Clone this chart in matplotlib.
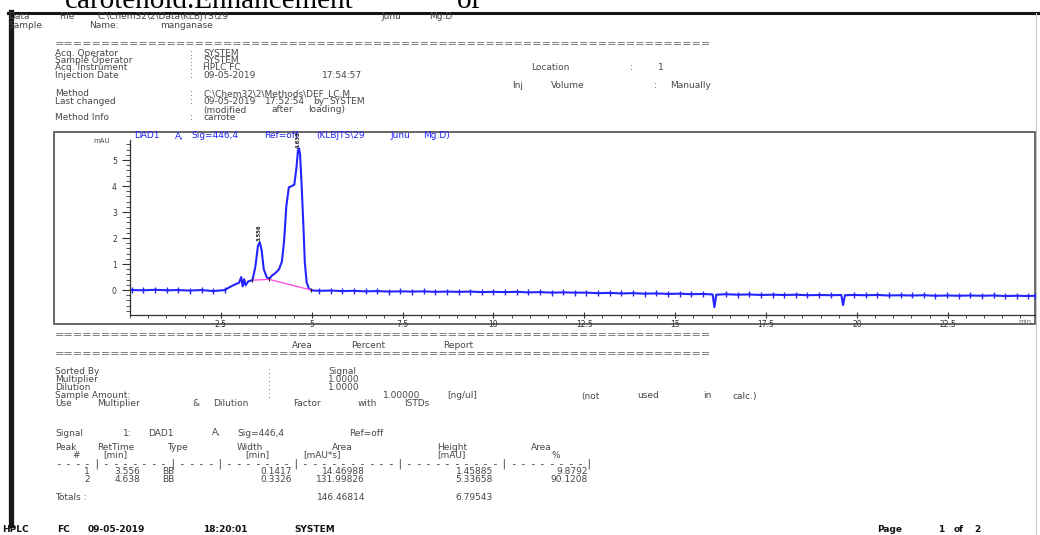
import re

import matplotlib
matplotlib.use('Agg')
import matplotlib.pyplot as plt
import numpy as np
from matplotlib.font_manager import FontProperties
from matplotlib.textpath import TextToPath


# DAD1 A signal, (min, mAU)
trace_pre = [(0.05, 0.00), (0.37, -0.01), (0.69, 0.01), (1.01, -0.01), (1.33, 0.00),
             (1.65, -0.02), (1.97, 0.00), (2.29, -0.04), (2.61, 0.00)]
trace_peaks = [(2.75, 0.12), (2.90, 0.22), (3.00, 0.28), (3.06, 0.50), (3.10, 0.14),
               (3.14, 0.42), (3.18, 0.18), (3.25, 0.33), (3.37, 0.38), (3.45, 0.90),
               (3.52, 1.70), (3.57, 1.84), (3.62, 1.55), (3.68, 0.80), (3.76, 0.50),
               (3.83, 0.42), (3.90, 0.55), (4.00, 0.65), (4.10, 0.80), (4.18, 1.10),
               (4.24, 1.90), (4.30, 3.20), (4.37, 3.95), (4.45, 4.00), (4.52, 4.05),
               (4.58, 4.70), (4.62, 5.35), (4.65, 5.45), (4.68, 5.20), (4.72, 4.10),
               (4.77, 2.50), (4.81, 1.05), (4.86, 0.30), (4.92, 0.06), (4.98, 0.00),
               (5.05, -0.02)]
trace_post = [(5.20, -0.03), (5.52, -0.02), (5.84, -0.04), (6.16, -0.03), (6.48, -0.05),
              (6.80, -0.04), (7.12, -0.06), (7.44, -0.05), (7.76, -0.06), (8.08, -0.05),
              (8.40, -0.07), (8.72, -0.06), (9.04, -0.07), (9.36, -0.06), (9.68, -0.08),
              (10.00, -0.07), (10.32, -0.08), (10.64, -0.07), (10.96, -0.09), (11.28, -0.08),
              (11.60, -0.10), (11.92, -0.09), (12.24, -0.10), (12.56, -0.10), (12.88, -0.12),
              (13.20, -0.11), (13.52, -0.13), (13.84, -0.12), (14.16, -0.14), (14.48, -0.13),
              (14.80, -0.15), (15.12, -0.14), (15.44, -0.16), (15.76, -0.15), (16.03, -0.17),
              (16.08, -0.66), (16.13, -0.18), (16.40, -0.16), (16.72, -0.18), (17.04, -0.17),
              (17.36, -0.19), (17.68, -0.18), (18.00, -0.19), (18.32, -0.18), (18.64, -0.20),
              (18.96, -0.19), (19.28, -0.20), (19.57, -0.19), (19.62, -0.58), (19.67, -0.20),
              (19.92, -0.19), (20.24, -0.20), (20.56, -0.19), (20.88, -0.21), (21.20, -0.20),
              (21.52, -0.21), (21.84, -0.20), (22.16, -0.22), (22.48, -0.21), (22.80, -0.22),
              (23.12, -0.21), (23.44, -0.22), (23.76, -0.21), (24.08, -0.23), (24.40, -0.22),
              (24.72, -0.23), (24.90, -0.22)]
dip_t = [16.08, 19.62]

# integration baseline under the two peaks
base_t = [3.37, 3.83, 4.98]
base_v = [0.38, 0.41, 0.00]

# area percent report
peak_no = [1, 2]
peak_rt = [3.556, 4.638]
peak_type = ['BB', 'BB']
peak_width = [0.1417, 0.3326]
peak_area = [14.46988, 131.99826]
peak_height = [1.45885, 5.33658]
peak_pct = [9.8792, 90.1208]

x_ticks = [2.5, 5, 7.5, 10, 12.5, 15, 17.5, 20, 22.5]
x_labels = ['2.5', '5', '7.5', '10', '12.5', '15', '17.5', '20', '22.5']
y_ticks = [0, 1, 2, 3, 4, 5]

ink = '#474747'
blue = '#2424ff'
FS = 6.5

fig = plt.figure(figsize=(10.4, 5.35), dpi=100)
page = fig.add_axes([0, 0, 1, 1])
page.set_xlim(0, 1040)
page.set_ylim(535, 0)
page.axis('off')

t2p = TextToPath()


def natw(s, size, family='DejaVu Sans'):
    prop = FontProperties(family=family, size=size)
    w = t2p.get_text_width_height_descent(s + '|', prop, ismath=False)[0]
    w0 = t2p.get_text_width_height_descent('|', prop, ismath=False)[0]
    return (w - w0) * 100 / 72.


def put(s, x, y, x_end=None, size=FS, ha='left', **kw):
    kw.setdefault('color', ink)
    if x_end is None:
        page.text(x, y, s, fontsize=size, ha=ha, va='center', **kw)
        return
    # the scan is stretched sideways: spread the words over the measured span
    words = [(m.start(), m.group()) for m in re.finditer(r'\S+', s)]
    last_start, last = words[-1]
    k = max((x_end - x - natw(last, size)) / max(natw(s[:last_start], size), 1), 1)
    for st, w in words:
        page.text(x + natw(s[:st], size) * k, y, w, fontsize=size, va='center', **kw)


def rule(x0, x1, y):
    s = '=' * 70
    page.text(x0, y, s, fontsize=FS * (x1 - x0) / natw(s, FS), va='center', color='#6a6a6a')


def sep(s, x0, x1, y):
    pitch = (x1 - x0) / len(s)
    for i, ch in enumerate(s):
        page.text(x0 + i * pitch, y, ch, fontsize=FS + 1.5, family='DejaVu Sans Mono',
                  va='center', color=ink)


# partial line of the page above, cut by the scan
page.text(65, 8.5, 'carotenoid.Enhancement', fontsize=21, family='Liberation Serif',
          va='baseline', color='black')
page.text(457, 8.5, 'of', fontsize=21, family='Liberation Serif', va='baseline', color='black')

# scan borders
page.plot([8, 1040], [12.5, 12.5], color='#151515', lw=2.2)
page.plot([10.5, 10.5], [12, 525], color='#1a1a1a', lw=3.8)
page.plot([1036, 1036], [13, 535], color='#c8c8c8', lw=0.8)

put('Data File C:\\Chem32\\2\\Data\\KLBJTS\\29 Junu Mg.D', 8, 16.5, 452)
put('Sample Name: manganase', 8, 25, 213)
rule(55, 712, 44)

hdr = [('Acq. Operator', 'SYSTEM', 53), ('Sample Operator', 'SYSTEM', 60.5),
       ('Acq. Instrument', 'HPLC FC', 68), ('Injection Date', '09-05-2019 17:54:57', 76),
       ('Method', 'C:\\Chem32\\2\\Methods\\DEF_LC.M', 94),
       ('Last changed', '09-05-2019 17:52:54 by SYSTEM', 102),
       ('', '(modified after loading)', 110), ('Method Info', 'carrote', 118)]
val_end = {'09-05-2019 17:54:57': 362, 'C:\\Chem32\\2\\Methods\\DEF_LC.M': 365,
           '09-05-2019 17:52:54 by SYSTEM': 365, '(modified after loading)': 345}
for lab, val, y in hdr:
    if lab:
        put(lab, 55, y)
        put(':', 190, y)
    put(val, 203, y, val_end.get(val))
put('Location :   1', 531, 68, 664)
put('Inj Volume : Manually', 512, 85, 711)

rule(55, 712, 335)
put('Area Percent Report', 292, 346, 473)
rule(55, 712, 354)

opts = [('Sorted By', 'Signal', 372), ('Multiplier', '1.0000', 380), ('Dilution', '1.0000', 388)]
for lab, val, y in opts:
    put(lab, 55, y)
    put(':', 268, y)
    put(val, 328, y)
put('Sample Amount:', 55, 396)
put(':', 268, 396)
put('1.00000', 383, 396)
put('[ng/ul]', 447, 396)
put('(not used in calc.)', 581, 396, 757)
put('Use Multiplier & Dilution Factor with ISTDs', 55, 404, 430)
put('Signal 1: DAD1 A, Sig=446,4 Ref=off', 55, 433, 383)

for txt, x in [('Peak', 55), ('RetTime', 97), ('Type', 167), ('Width', 237),
               ('Area', 332), ('Height', 437), ('Area', 531)]:
    put(txt, x, 447)
for txt, x in [('#', 72), ('[min]', 103), ('[min]', 245), ('[mAU*s]', 303),
               ('[mAU]', 437), ('%', 551)]:
    put(txt, x, 455)
sep('----|-------|----|-------|----------|----------|--------|', 55, 595, 464)
for i, y in enumerate([472, 480]):
    put(str(peak_no[i]), 90, y, ha='right')
    put(f'{peak_rt[i]:.3f}', 140, y, ha='right')
    put(peak_type[i], 162, y)
    put(f'{peak_width[i]:.4f}', 292, y, ha='right')
    put(f'{peak_area[i]:.5f}', 365, y, ha='right')
    put(f'{peak_height[i]:.5f}', 493, y, ha='right')
    put(f'{peak_pct[i]:.4f}', 588, y, ha='right')
put('Totals :', 55, 498)
put(f'{sum(peak_area):.5f}', 365, 498, ha='right')
put(f'{sum(peak_height):.5f}', 493, 498, ha='right')

put('HPLC FC 09-05-2019 18:20:01 SYSTEM', 2, 530, 330, color='#111', fontweight='bold')
put('Page    1 of 2', 877, 530, 980, color='#111', fontweight='bold')

# chromatogram frame
page.add_patch(plt.Rectangle((54, 132), 981, 192, fill=False, edgecolor='#5a5a5a', lw=1.3))
put('DAD1 A, Sig=446,4 Ref=off (KLBJTS\\29 Junu Mg.D)', 134, 136, 450, size=6.5, color=blue)
put('mAU', 93, 141, size=5, color='#444')
put('min', 1018, 322, size=5, color='#666')

ax = fig.add_axes([130 / 1040, (535 - 315) / 535, (1035 - 130) / 1040, (315 - 140) / 535])
ax.patch.set_alpha(0)
tr = np.array(trace_pre + trace_peaks + trace_post)
t, v = tr[:, 0], tr[:, 1]
ax.plot(t, v, color=blue, lw=1.5, solid_joinstyle='round')
hm = ((t < 2.65) | (t > 5.15)) & (np.abs(t[:, None] - np.array(dip_t)).min(axis=1) > 0.06)
ax.plot(t[hm], v[hm], ls='none', marker='|', ms=4, mew=1.0, color=blue)
ax.plot(base_t, base_v, color='#ff45e0', lw=0.9)
ax.plot(base_t, base_v, ls='none', marker='|', ms=3, mew=0.8, color='#222')
for rt in peak_rt:
    apex = v[np.abs(t - rt) < 0.1].max()
    ax.text(rt, apex + 0.03, f'{rt:.3f}', rotation=90, fontsize=3.8, fontweight='bold',
            ha='center', va='bottom', color='#222', clip_on=False)

ax.set_xlim(0, 24.9)
ax.set_ylim(-0.96, 5.77)
ax.set_xticks(x_ticks)
ax.set_xticklabels(x_labels)
ax.set_xticks(np.array([i * 0.5 for i in range(50)]), minor=True)
ax.set_yticks(y_ticks)
ax.set_yticks([-0.8 + 0.2 * i for i in range(33)], minor=True)
for s in ['top', 'right']:
    ax.spines[s].set_visible(False)
for s in ['left', 'bottom']:
    ax.spines[s].set_color('#333')
    ax.spines[s].set_linewidth(0.9)
ax.tick_params(axis='y', which='major', direction='out', length=5.5, width=0.8,
               pad=4, labelsize=5.5, colors='#333')
ax.tick_params(axis='y', which='minor', direction='out', length=3, width=0.6, colors='#333')
ax.tick_params(axis='x', which='major', direction='inout', length=4, width=0.8,
               pad=1.5, labelsize=5.5, colors='#333')
ax.tick_params(axis='x', which='minor', direction='out', length=2, width=0.6, colors='#333')

fig.savefig('out.png', dpi=100, facecolor='white')
